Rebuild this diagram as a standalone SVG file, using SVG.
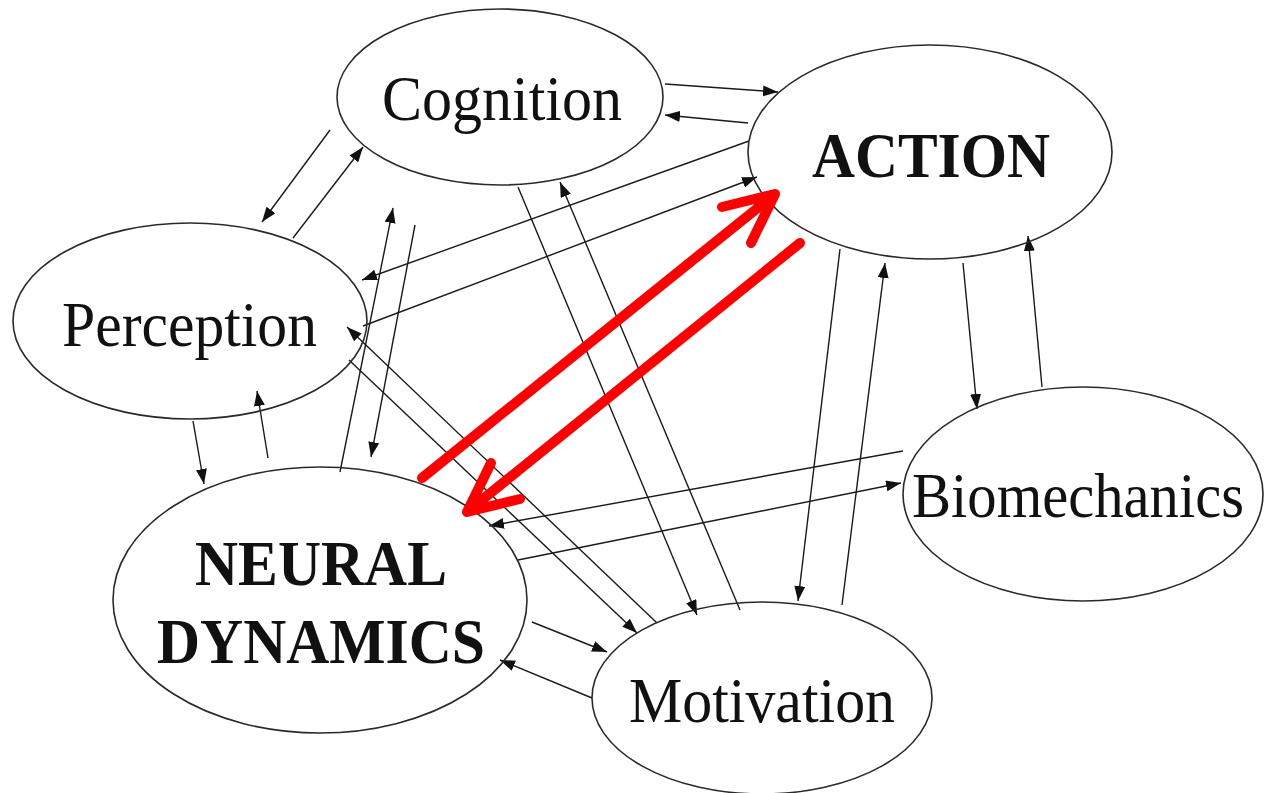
<svg xmlns="http://www.w3.org/2000/svg" width="1264" height="793" viewBox="0 0 1264 793">
<style>
.node{fill:none;stroke:#2a2a2a;stroke-width:1.6}
.lbl{font-family:"Liberation Serif","Times New Roman",serif;font-size:64px;fill:#111}
.bold{font-weight:bold}
.conn line{stroke:#1a1a1a;stroke-width:1.4;marker-end:url(#ah)}
.red{stroke:#ff0000;stroke-width:10;stroke-linecap:round;stroke-linejoin:round;fill:none}
</style>
<defs>
<marker id="ah" markerUnits="userSpaceOnUse" markerWidth="17" markerHeight="12" refX="15" refY="5.5" orient="auto">
<path d="M0,0 L15,5.5 L0,11 z" fill="#111"/>
</marker>
</defs>
<rect width="1264" height="793" fill="#ffffff"/>
<g id="connectors" class="conn">
<line x1="665" y1="84" x2="778" y2="92"/>
<line x1="748" y1="123" x2="665" y2="115"/>
<line x1="749" y1="141" x2="362" y2="280"/>
<line x1="363" y1="326" x2="757" y2="177"/>
<line x1="293" y1="238" x2="363" y2="147"/>
<line x1="330" y1="130" x2="262" y2="222"/>
<line x1="193" y1="421" x2="204" y2="484"/>
<line x1="268" y1="458" x2="257" y2="391"/>
<line x1="340" y1="472" x2="393" y2="208"/>
<line x1="415" y1="225" x2="371" y2="457"/>
<line x1="518" y1="187" x2="697" y2="615"/>
<line x1="740" y1="610" x2="560" y2="182"/>
<line x1="349" y1="360" x2="637" y2="633"/>
<line x1="657" y1="623" x2="347" y2="327"/>
<line x1="840" y1="249" x2="798" y2="601"/>
<line x1="842" y1="605" x2="885" y2="263"/>
<line x1="963" y1="263" x2="977" y2="409"/>
<line x1="1042" y1="387" x2="1028" y2="236"/>
<line x1="903" y1="451" x2="489" y2="526"/>
<line x1="518" y1="560" x2="901" y2="483"/>
<line x1="532" y1="622" x2="607" y2="652"/>
<line x1="592" y1="698" x2="500" y2="660"/>
</g>
<g id="cognition">
<ellipse class="node" cx="500" cy="97" rx="163" ry="88"/>
<text class="lbl" x="382" y="120" textLength="240" lengthAdjust="spacingAndGlyphs">Cognition</text>
</g>
<g id="action">
<ellipse class="node" cx="930" cy="152" rx="182" ry="107"/>
<text class="lbl bold" x="812" y="177" textLength="238" lengthAdjust="spacingAndGlyphs">ACTION</text>
</g>
<g id="perception">
<ellipse class="node" cx="190" cy="321" rx="177" ry="98"/>
<text class="lbl" x="62" y="346" textLength="255" lengthAdjust="spacingAndGlyphs">Perception</text>
</g>
<g id="neural-dynamics">
<ellipse class="node" cx="320" cy="600" rx="207" ry="133"/>
<text class="lbl bold" x="195" y="585" textLength="252" lengthAdjust="spacingAndGlyphs">NEURAL</text>
<text class="lbl bold" x="157" y="663" textLength="328" lengthAdjust="spacingAndGlyphs">DYNAMICS</text>
</g>
<g id="motivation">
<ellipse class="node" cx="762" cy="698" rx="170" ry="96"/>
<text class="lbl" x="629" y="722" textLength="266" lengthAdjust="spacingAndGlyphs">Motivation</text>
</g>
<g id="biomechanics">
<ellipse class="node" cx="1083" cy="494" rx="180" ry="107"/>
<text class="lbl" x="912" y="517" font-size="58" textLength="332" lengthAdjust="spacingAndGlyphs">Biomechanics</text>
</g>
<g id="red-arrows">
<path class="red" d="M422,478 L775,194 M722,207 L775,194 L751,243"/>
<path class="red" d="M800,243 L467,512 M491,463 L467,512 L520,499"/>
</g>
</svg>
